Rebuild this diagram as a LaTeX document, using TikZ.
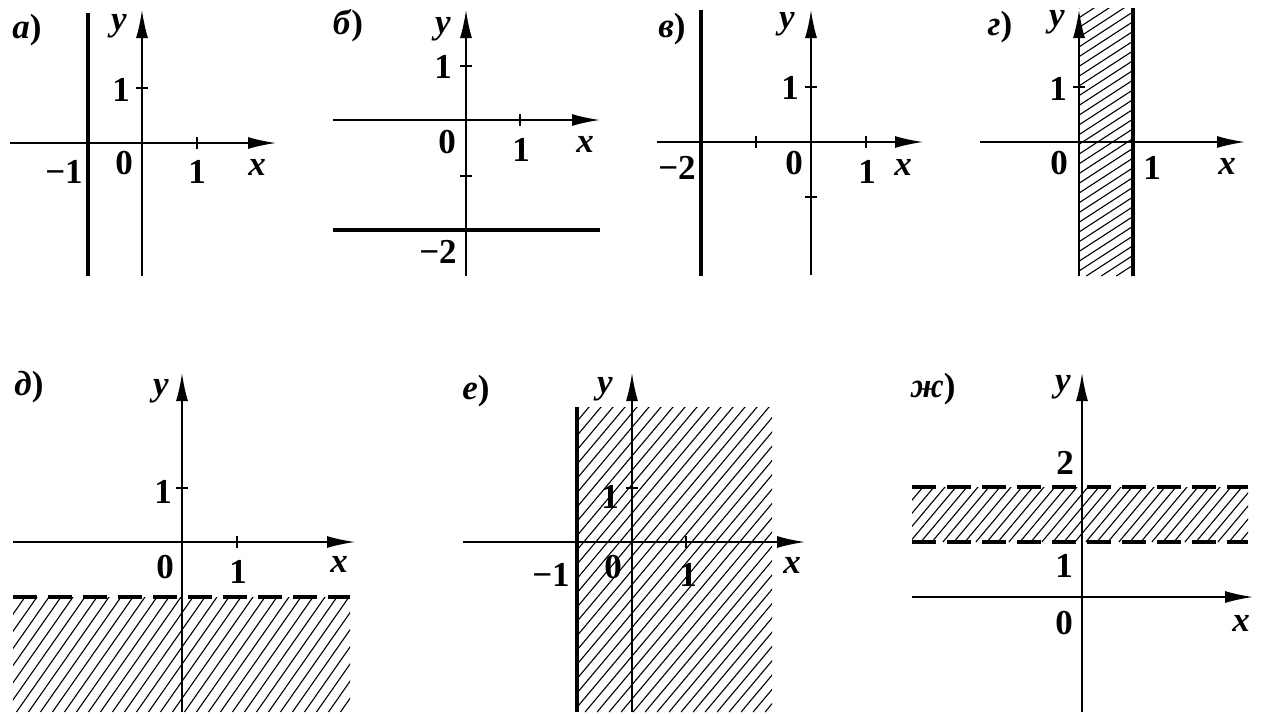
\documentclass[tikz,border=0pt]{standalone}
\usepackage{fontspec}
\setmainfont{Liberation Serif}
\usetikzlibrary{arrows.meta}
\tikzset{
  axis/.style={line width=1.7pt,-{Latex[length=28pt,width=12pt]}},
  thickline/.style={line width=4.4pt},
  dashline/.style={line width=4.4pt,dash pattern=on 24pt off 11pt},
  tickmark/.style={line width=1.5pt},
  hatchline/.style={line width=1.1pt},
  num/.style={inner sep=0pt,font=\fontsize{35}{38}\selectfont\bfseries},
  var/.style={inner sep=0pt,font=\fontsize{35}{38}\selectfont\bfseries\itshape},
  pnl/.style={inner sep=0pt,font=\fontsize{35}{38}\selectfont\bfseries},
}
\newcommand\hatchbox[6]{%
  \begin{scope}
    \clip (#1,#2) rectangle (#3,#4);
    \pgfmathsetmacro\hstart{#1-(#4-#2)/tan(#6)}
    \pgfmathsetmacro\hlen{2*(#4-#2)/sin(#6)+20}
    \pgfmathtruncatemacro\hn{((#3)-\hstart)/(#5)+1}
    \foreach \k in {0,...,\hn}
      \draw[hatchline] ({\hstart+\k*#5},#4) -- ++({\hlen*cos(#6)},{-\hlen*sin(#6)});
  \end{scope}}
\begin{document}
\begin{tikzpicture}[x=1pt,y=-1pt]
\useasboundingbox (0,0) rectangle (1261,713);
% ---------- a
\draw[axis] (10,143) -- (276,143);
\draw[axis] (142,276) -- (142,10);
\draw[thickline] (88,13) -- (88,276);
\draw[tickmark] (197,137) -- (197,149);
\draw[tickmark] (136,88) -- (148,88);
\node[pnl] (la) at (27,30) {\textit{а})};
\node[var] (ay) at (119,26) {y};
\node[num] (a1y) at (121,90) {1};
\node[num] (a0) at (124,163) {0};
\node[num] (am1) at (64,172) {−1};
\node[num] (a1x) at (197,172) {1};
\node[var] (ax) at (257,167) {x};
% ---------- b
\draw[axis] (333,120) -- (600,120);
\draw[axis] (466,276) -- (466,10);
\draw[thickline] (333,230) -- (600,230);
\draw[tickmark] (460,66) -- (472,66);
\draw[tickmark] (460,176) -- (472,176);
\draw[tickmark] (520,114) -- (520,126);
\node[pnl] (lb) at (348,26) {\textit{б})};
\node[var] (by) at (443,29) {y};
\node[num] (b1y) at (443,67) {1};
\node[num] (b0) at (447,142) {0};
\node[num] (b1x) at (521,150) {1};
\node[var] (bx) at (585,144) {x};
\node[num] (bm2) at (438,252) {−2};
% ---------- v
\draw[axis] (657,142) -- (923,142);
\draw[axis] (811,275) -- (811,10);
\draw[thickline] (701,10) -- (701,276);
\draw[tickmark] (756,136) -- (756,148);
\draw[tickmark] (866,136) -- (866,148);
\draw[tickmark] (805,87) -- (817,87);
\draw[tickmark] (805,197) -- (817,197);
\node[pnl] (lv) at (672,29) {\textit{в})};
\node[var] (vy) at (787,24) {y};
\node[num] (v1y) at (790,88) {1};
\node[num] (v0) at (794,163) {0};
\node[num] (vm2) at (677,168) {−2};
\node[num] (v1x) at (867,172) {1};
\node[var] (vx) at (903,167) {x};
% ---------- g
\hatchbox{1079}{8}{1133}{276}{15}{33}
\draw[axis] (980,142) -- (1245,142);
\draw[axis] (1079,276) -- (1079,10);
\draw[thickline] (1133,8) -- (1133,276);
\draw[tickmark] (1073,87) -- (1085,87);
\node[pnl] (lg) at (1000,27) {\textit{г})};
\node[var] (gy) at (1057,22) {y};
\node[num] (g1y) at (1058,89) {1};
\node[num] (g0) at (1059,163) {0};
\node[num] (g1x) at (1152,168) {1};
\node[var] (gx) at (1227,166) {x};
% ---------- d
\hatchbox{13}{597}{350}{712}{12}{55}
\draw[axis] (13,542) -- (355,542);
\draw[axis] (182,712) -- (182,373);
\draw[dashline] (13,597) -- (350,597);
\draw[tickmark] (176,488) -- (188,488);
\draw[tickmark] (237,536) -- (237,548);
\node[pnl] (ld) at (29,387) {\textit{д})};
\node[var] (dy) at (161,391) {y};
\node[num] (d1y) at (163,492) {1};
\node[num] (d0) at (165,567) {0};
\node[num] (d1x) at (238,572) {1};
\node[var] (dx) at (339,564) {x};
% ---------- e
\hatchbox{577}{407}{772}{712}{12}{50}
\draw[axis] (463,542) -- (805,542);
\draw[axis] (632,712) -- (632,373);
\draw[thickline] (577,407) -- (577,712);
\draw[tickmark] (626,488) -- (638,488);
\draw[tickmark] (686,536) -- (686,548);
\node[pnl] (le) at (476,391) {\textit{е})};
\node[var] (ey) at (605,389) {y};
\node[num] (e1y) at (610,497) {1};
\node[num] (e0) at (613,567) {0};
\node[num] (em1) at (551,575) {−1};
\node[num] (e1x) at (688,575) {1};
\node[var] (ex) at (792,565) {x};
% ---------- zh
\hatchbox{912}{487}{1248}{542}{11}{50}
\draw[axis] (912,597) -- (1253,597);
\draw[axis] (1082,712) -- (1082,373);
\draw[dashline] (912,487) -- (1248,487);
\draw[dashline] (912,542) -- (1248,542);
\node[pnl] (lzh) at (933,389) {\textit{ж})};
\node[var] (zy) at (1063,387) {y};
\node[num] (z2y) at (1065,463) {2};
\node[num] (z1y) at (1064,566) {1};
\node[num] (z0) at (1064,623) {0};
\node[var] (zx) at (1241,623) {x};
\end{tikzpicture}
\end{document}
